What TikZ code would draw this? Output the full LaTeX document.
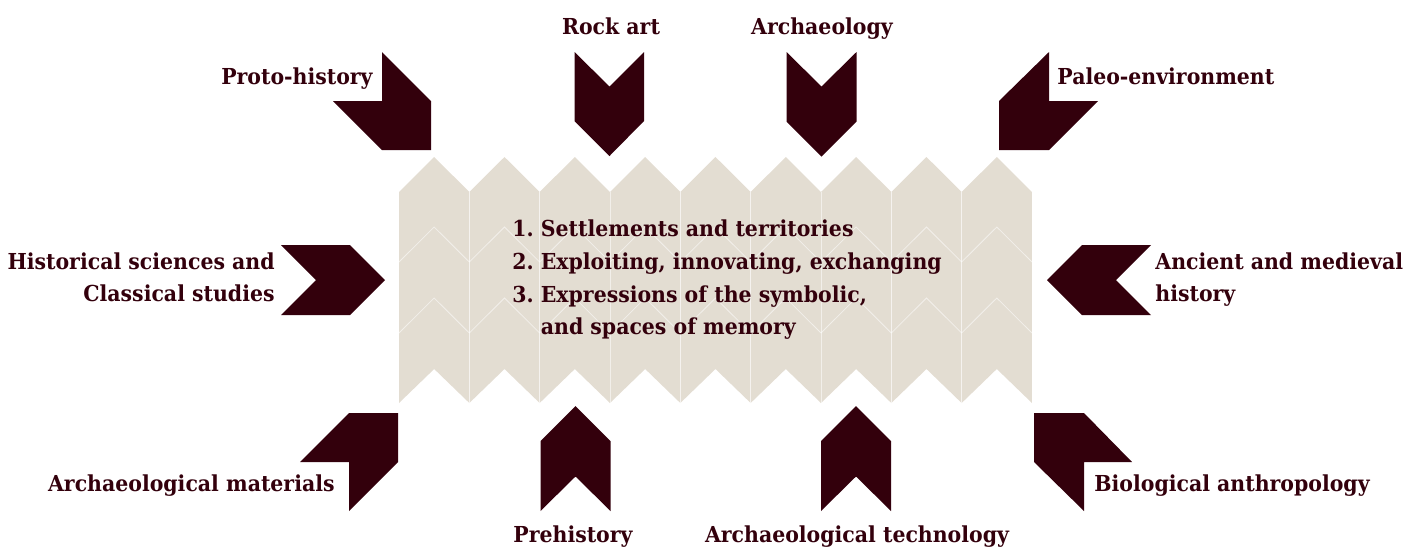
\documentclass[tikz,border=0pt]{standalone}
\usepackage{fontspec}
\setmainfont{DejaVu Serif}[FakeStretch=0.93]
\definecolor{maroon}{HTML}{33000C}
\definecolor{beige}{HTML}{E3DDD2}
\begin{document}
\frenchspacing
\begin{tikzpicture}[x=0.5pt,y=-0.5pt,
  chev/.style={fill=maroon},
  lbl/.style={inner sep=0pt,text=maroon,font=\fontsize{11}{16}\selectfont\bfseries\frenchspacing},
  faint/.style={draw=white,opacity=0.55,line width=0.4pt}]
\useasboundingbox (0,0) rectangle (1420,548);
% central block
\def\w{70.33}
\foreach \i in {0,...,8}{
  \pgfmathsetmacro\xa{399+\i*\w}
  \pgfmathsetmacro\xc{399+(\i+0.5)*\w}
  \pgfmathsetmacro\xb{399+(\i+1)*\w}
  \fill[beige] (\xa,192) -- (\xc,157) -- (\xb,192) -- (\xb,403) -- (\xc,369) -- (\xa,403) -- cycle;
}
\foreach \i in {0,...,8}{
  \pgfmathsetmacro\xa{399+\i*\w}
  \pgfmathsetmacro\xc{399+(\i+0.5)*\w}
  \pgfmathsetmacro\xb{399+(\i+1)*\w}
  \path[faint] (\xa,262) -- (\xc,227) -- (\xb,262);
  \path[faint] (\xa,333) -- (\xc,298) -- (\xb,333);
}
\foreach \i in {1,...,8}{
  \pgfmathsetmacro\xa{399+\i*\w}
  \path[faint] (\xa,192) -- (\xa,403);
}
% chevrons
\fill[chev] (382,52) -- (431,101) -- (431,150) -- (382,150) -- (333,101) -- (382,101) -- cycle;
\fill[chev] (574.5,52) -- (609.5,86.5) -- (644,52) -- (644,121) -- (609.5,156) -- (574.5,121) -- cycle;
\fill[chev] (786.5,52) -- (821.5,86.5) -- (856.5,52) -- (856.5,121.5) -- (821.5,156.5) -- (786.5,121.5) -- cycle;
\fill[chev] (1049,52) -- (1049,101) -- (1098,101) -- (1049,150) -- (999,150) -- (999,101) -- cycle;
\fill[chev] (281,245) -- (350,245) -- (385,280) -- (350,315) -- (281,315) -- (316,280) -- cycle;
\fill[chev] (1151,245) -- (1116,280) -- (1151,315) -- (1082,315) -- (1047,280) -- (1082,245) -- cycle;
\fill[chev] (349,413) -- (398,413) -- (398,462) -- (349,511) -- (349,462) -- (300,462) -- cycle;
\fill[chev] (575.5,406) -- (610.5,441) -- (610.5,511) -- (575.5,476.5) -- (540.5,511) -- (540.5,441) -- cycle;
\fill[chev] (856,406) -- (891,441) -- (891,511) -- (856,476.5) -- (821,511) -- (821,441) -- cycle;
\fill[chev] (1034,413) -- (1084,413) -- (1132,462) -- (1084,462) -- (1084,511) -- (1034,462) -- cycle;
% labels
\node[lbl,anchor=base east] (proto) at (373,84) {Proto-history};
\node[lbl,anchor=base] (rock) at (611,34) {Rock art};
\node[lbl,anchor=base] (arch) at (822,34) {Archaeology};
\node[lbl,anchor=base west] (paleo) at (1057,84) {Paleo-environment};
\node[lbl,anchor=base east] (hist1) at (275,269) {Historical sciences and};
\node[lbl,anchor=base east] (hist2) at (275,301) {Classical studies};
\node[lbl,anchor=base west] (anc1) at (1155,269) {Ancient and medieval};
\node[lbl,anchor=base west] (anc2) at (1155,301) {history};
\node[lbl,anchor=base east] (mat) at (335,491) {Archaeological materials};
\node[lbl,anchor=base] (pre) at (573,542) {Prehistory};
\node[lbl,anchor=base] (tech) at (857,542) {Archaeological technology};
\node[lbl,anchor=base west] (bio) at (1094,491) {Biological anthropology};
\node[lbl,anchor=base west] (c1) at (512,236) {1. Settlements and territories};
\node[lbl,anchor=base west] (c2) at (512,269) {2. Exploiting, innovating, exchanging};
\node[lbl,anchor=base west] (c3) at (512,302) {3. Expressions of the symbolic,};
\node[lbl,anchor=base west] (c4) at (512,334) {\phantom{3. }and spaces of memory};
\end{tikzpicture}
\end{document}
